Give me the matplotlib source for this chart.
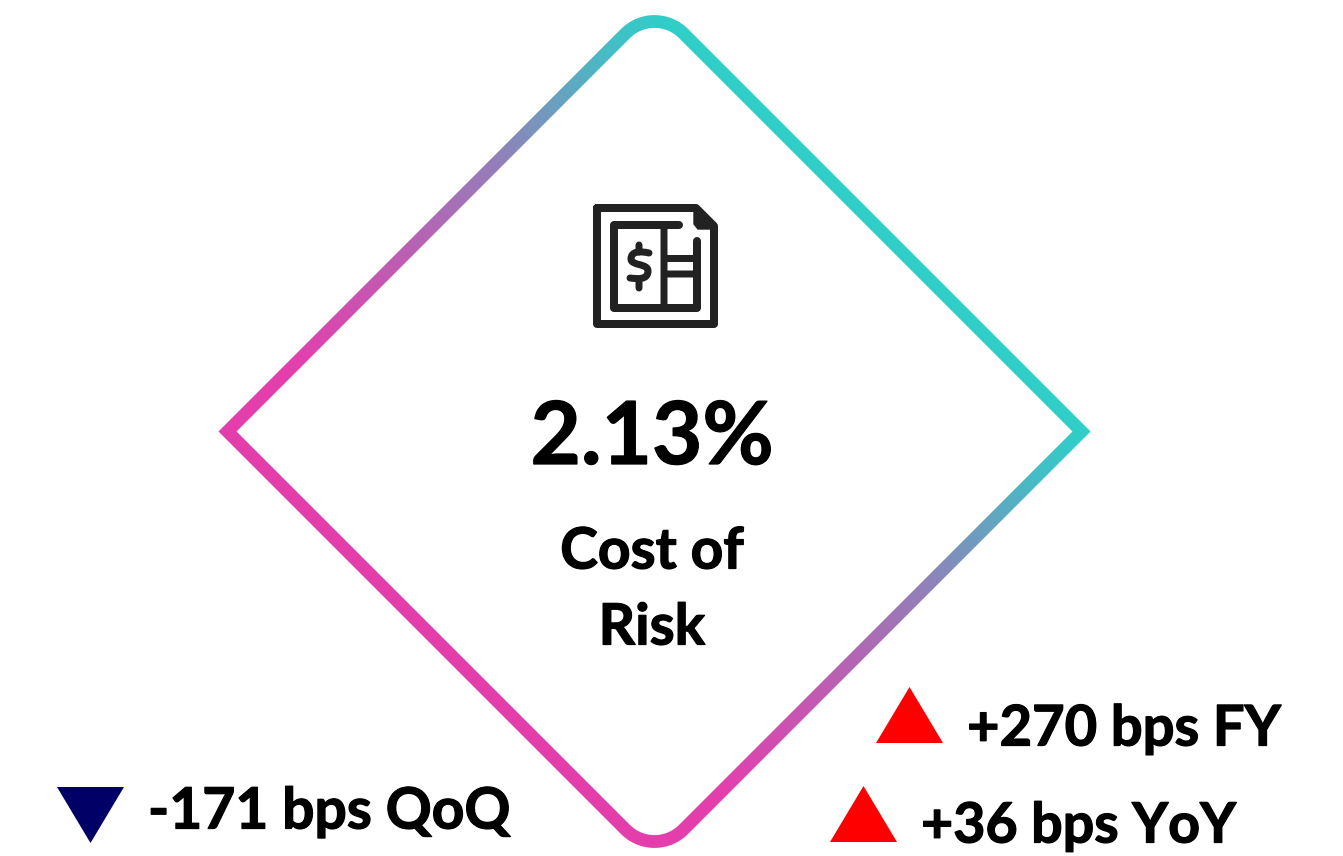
import numpy as np
import matplotlib
matplotlib.use("Agg")
import matplotlib.pyplot as plt
import matplotlib.patheffects as pe
from matplotlib.path import Path
from matplotlib.patches import PathPatch
from matplotlib.colors import LinearSegmentedColormap

# KPI content
kpi_value = "2.13%"
kpi_title = ["Cost of", "Risk"]
change_labels = ["+270 bps FY", "+36 bps YoY", "-171 bps QoQ"]
change_dirs = ["up", "up", "down"]

W, H = 1343, 856
INK = "#000000"
PINK = "#E83CAD"
TEAL = "#2FCFC8"
ICON = "#222222"
UP = "#FF0000"
DOWN = "#000066"
FONT = "Lato"
HEAVY = [pe.withStroke(linewidth=0.9, foreground=INK)]

fig = plt.figure(figsize=(W / 100, H / 100), dpi=100, facecolor="white")
ax = fig.add_axes([0, 0, 1, 1])
ax.set_xlim(0, W)
ax.set_ylim(H, 0)
ax.axis("off")


def rounded_diamond(cx, cy, half, corner_r, off):
    """Diamond outline offset by `off`, sharp at left/right, round at top/bottom."""
    s2 = np.sqrt(2)
    apex = half + off * s2
    left, right = cx - apex, cx + apex
    # arc centres stay fixed, so the offset curves remain concentric
    top_c = cy - half + corner_r * s2
    bot_c = cy + half - corner_r * s2
    r = corner_r + off
    top = np.radians(np.linspace(225, 315, 40))
    bot = np.radians(np.linspace(45, 135, 40))
    pts = [(left, cy)]
    pts += list(zip(cx + r * np.cos(top), top_c + r * np.sin(top)))
    pts += [(right, cy)]
    pts += list(zip(cx + r * np.cos(bot), bot_c + r * np.sin(bot)))
    pts += [(left, cy)]
    return np.array(pts)


# Gradient frame: image clipped to the ring between two offset outlines
cx, cy, half = 654.5, 431.5, 427.0
outer = rounded_diamond(cx, cy, half, 41, 6.4)
inner = rounded_diamond(cx, cy, half, 41, -6.4)[::-1]
verts = np.vstack([outer, inner])
codes = ([Path.MOVETO] + [Path.LINETO] * (len(outer) - 2) + [Path.CLOSEPOLY]) * 2
ring = Path(verts, codes)

# Colour ramp runs across the diamond, from its lower-left side to its upper-right side
ramp_pos = [-300, -33, 120, 240, 337, 427]
ramp_mix = [0.02, 0.28, 0.47, 0.70, 0.88, 1.00]
xx, yy = np.meshgrid(np.arange(W) + 0.5, np.arange(H) + 0.5)
grad = np.interp((xx - cx) - (yy - cy), ramp_pos, ramp_mix)
cmap = LinearSegmentedColormap.from_list("frame", [PINK, TEAL])
img = ax.imshow(grad, cmap=cmap, vmin=0, vmax=1,
                extent=(0, W, H, 0), aspect="auto", interpolation="bilinear", zorder=1)
clip = PathPatch(ring, transform=ax.transData, fc="none", ec="none")
ax.add_patch(clip)
img.set_clip_path(clip)
ax.set_xlim(0, W)
ax.set_ylim(H, 0)


# Document-with-dollar icon
def stroke(points, lw, closed=False, cap="round", join="round"):
    pts = np.array(points, dtype=float)
    if closed:
        pts = np.vstack([pts, pts[0]])
    ax.plot(pts[:, 0], pts[:, 1], color=ICON, lw=lw * 0.72, snap=False,
            solid_capstyle=cap, solid_joinstyle=join, zorder=3)


stroke([(597, 208), (696, 208), (714, 226), (714, 324), (597, 324)], 8, closed=True)
ax.fill([694, 714, 714, 698, 694], [206, 226, 229, 229, 224], color=ICON, zorder=3)
stroke([(679, 225), (614, 225), (614, 308), (697, 308), (697, 241)], 8)
stroke([(664, 225), (664, 308)], 7, cap="butt")
stroke([(664, 258.5), (697, 258.5)], 7, cap="butt")
stroke([(664, 274), (697, 274)], 7, cap="butt")
stroke([(639, 245), (639, 252)], 7)
stroke([(639, 279), (639, 288)], 7)
dollar = Path(
    [(649, 253), (640, 251), (631, 251), (631, 259),
     (631, 266), (648, 263), (648, 271), (648, 280), (638, 279), (630, 278)],
    [Path.MOVETO] + [Path.CURVE4] * 9,
)
ax.add_patch(PathPatch(dollar, fc="none", ec=ICON, lw=7 * 0.72,
                       capstyle="round", joinstyle="round", zorder=3))

# Central text
ax.text(652, 432, kpi_value, fontsize=62.6, fontweight="bold", family=FONT, color=INK,
        ha="center", va="center_baseline", zorder=4, path_effects=HEAVY)
for line, y in zip(kpi_title, (547, 623)):
    ax.text(652, y, line, fontsize=41, fontweight="bold", family=FONT, color=INK,
            ha="center", va="center_baseline", zorder=4, path_effects=HEAVY)

# Change indicators: triangle plus label
TRI_W, TRI_H = 67, 56
positions = [(876, 687, 967, 725, 40.4), (830, 786, 921, 822, 40.0), (57, 787, 148, 807, 41.0)]
for label, direction, (tx, ty, lx, ly, size) in zip(change_labels, change_dirs, positions):
    if direction == "up":
        xs, ys = [tx, tx + TRI_W, tx + TRI_W / 2], [ty + TRI_H, ty + TRI_H, ty]
        col = UP
    else:
        xs, ys = [tx, tx + TRI_W, tx + TRI_W / 2], [ty, ty, ty + TRI_H]
        col = DOWN
    ax.fill(xs, ys, color=col, lw=0, zorder=3)
    ax.text(lx, ly, label, fontsize=size, fontweight="bold", family=FONT, color=INK,
            ha="left", va="center_baseline", zorder=4, path_effects=HEAVY)

fig.savefig("out.png", dpi=100, facecolor="white")
